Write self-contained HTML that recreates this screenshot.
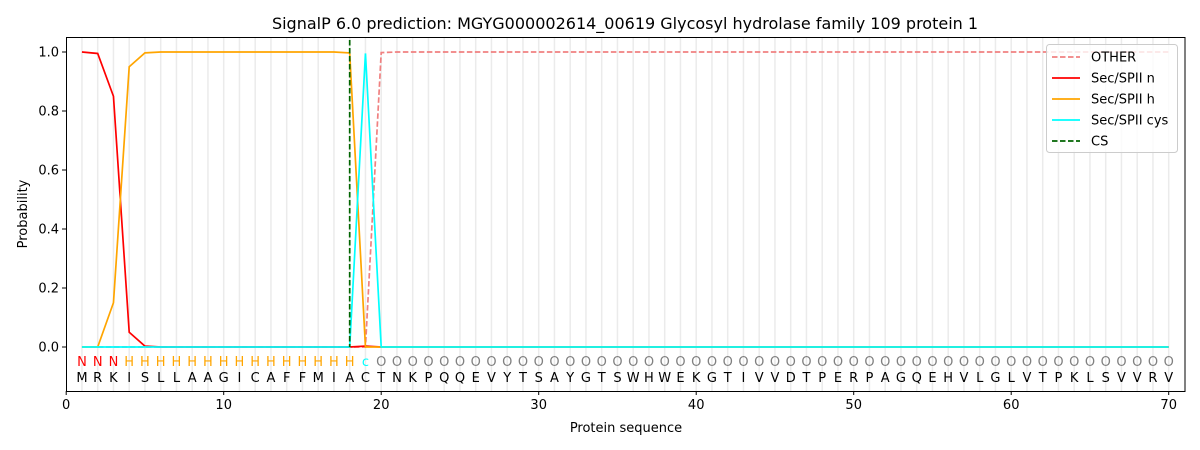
<!DOCTYPE html>
<html><head><meta charset="utf-8"><style>body{margin:0;background:#fff}svg{display:block}text{font-family:"DejaVu Sans","Liberation Sans",sans-serif}</style></head>
<body><svg id="s" width="1200" height="450" xmlns="http://www.w3.org/2000/svg"></svg>
<script>
const S=document.getElementById('s');
const X0=66.2,K=15.75,Y0=347,YK=295;
const X=v=>X0+v*K, Y=v=>Y0-v*YK;
let h='';
h+=`<text x="625" y="29" font-size="16" text-anchor="middle">SignalP 6.0 prediction: MGYG000002614_00619 Glycosyl hydrolase family 109 protein 1</text>`;
for(let i=1;i<=70;i++)h+=`<line x1="${X(i)}" y1="37" x2="${X(i)}" y2="391" stroke="#ebebeb" stroke-width="1.5"/>`;
const seq="MRKISLLAAGICAFFMIACTNKPQQEVYTSAYGTSWHWEKGTIVVDTPERPAGQEHVLGLVTPKLSVVRV";
for(let i=1;i<=70;i++){let l,c;if(i<=3){l='N';c='red'}else if(i<=18){l='H';c='orange'}else if(i==19){l='c';c='cyan'}else{l='O';c='gray'}
h+=`<text x="${X(i)}" y="366" font-size="13" fill="${c}" text-anchor="middle">${l}</text><text x="${X(i)}" y="382" font-size="13" text-anchor="middle">${seq[i-1]}</text>`;}
function pl(a,col,dash){let p=a.map((v,i)=>X(i+1)+','+Y(v)).join(' ');h+=`<polyline points="${p}" fill="none" stroke="${col}" stroke-width="1.7" ${dash?'stroke-dasharray="5.5,2.5"':''}/>`}
let n=[],hh=[],cy=[],o=[];
for(let i=1;i<=70;i++){n.push(i==1?1:i==2?0.995:i==3?0.85:i==4?0.05:i==5?0.003:i==19?0.003:0);
hh.push(i<=2?0:i==3?0.15:i==4?0.95:i==5?0.997:i<=17?1:i==18?0.997:0);
cy.push(i==19?0.995:0);o.push(i>=20?(i==20?0.998:1):0);}
pl(o,'#f08080',1);pl(n,'red');pl(hh,'orange');pl(cy,'cyan');
h+=`<line x1="${X(18)}" y1="40" x2="${X(18)}" y2="${Y(0)}" stroke="darkgreen" stroke-width="1.7" stroke-dasharray="5.5,2.5"/>`;
h+=`<rect x="66.5" y="37.5" width="1118.5" height="354" fill="none" stroke="#000" stroke-width="1"/>`;
for(let t=0;t<=70;t+=10)h+=`<line x1="${X(t)}" y1="391" x2="${X(t)}" y2="395" stroke="#000"/><text x="${X(t)}" y="409" font-size="13" text-anchor="middle">${t}</text>`;
for(let t=0;t<=5;t++){let v=t*0.2,y=Y(v);h+=`<line x1="62" y1="${y}" x2="66.5" y2="${y}" stroke="#000"/><text x="59" y="${y+4.5}" font-size="13" text-anchor="end">${v.toFixed(1)}</text>`;}
h+=`<text x="626" y="432" font-size="13" text-anchor="middle">Protein sequence</text>`;
h+=`<text transform="translate(27,214) rotate(-90)" font-size="13" text-anchor="middle">Probability</text>`;
h+=`<rect x="1046.5" y="44.5" width="131" height="108" rx="3" fill="#fff" fill-opacity="0.8" stroke="#ccc"/>`;
const L=[['OTHER','#f08080',1],['Sec/SPII n','red'],['Sec/SPII h','orange'],['Sec/SPII cys','cyan'],['CS','darkgreen',1]];
L.forEach((e,i)=>{let y=57+i*21;h+=`<line x1="1052" y1="${y}" x2="1080" y2="${y}" stroke="${e[1]}" stroke-width="1.7" ${e[2]?'stroke-dasharray="5.5,2.5"':''}/><text x="1091" y="${y+4.5}" font-size="13">${e[0]}</text>`});
S.innerHTML=h;
</script></body></html>
